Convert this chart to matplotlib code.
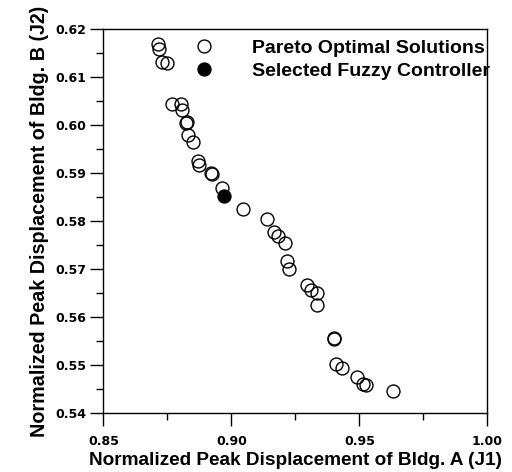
import matplotlib
matplotlib.use("Agg")
import matplotlib.pyplot as plt
from matplotlib.ticker import MultipleLocator, FormatStrFormatter

plt.rcParams['font.family'] = ['Liberation Sans', 'DejaVu Sans']
plt.rcParams['font.weight'] = 'bold'

pareto_j1 = [0.8712, 0.8719, 0.8731, 0.8748, 0.8770, 0.8804, 0.8806, 0.8823, 0.8825,
             0.8830, 0.8849, 0.8869, 0.8874, 0.8922, 0.8924, 0.8965, 0.9045,
             0.9141, 0.9167, 0.9184, 0.9210, 0.9219, 0.9227, 0.9295, 0.9311,
             0.9334, 0.9334, 0.9400, 0.9402, 0.9409, 0.9434, 0.9490, 0.9516,
             0.9526, 0.9630]
pareto_j2 = [0.6168, 0.6158, 0.6131, 0.6129, 0.6043, 0.6043, 0.6031, 0.6004, 0.6006,
             0.5980, 0.5965, 0.5925, 0.5917, 0.5899, 0.5898, 0.5868, 0.5824,
             0.5804, 0.5778, 0.5769, 0.5754, 0.5717, 0.5701, 0.5667, 0.5656,
             0.5651, 0.5626, 0.5556, 0.5555, 0.5503, 0.5493, 0.5474, 0.5460,
             0.5458, 0.5446]
selected_j1 = [0.8972]
selected_j2 = [0.5852]

fig = plt.figure(figsize=(5.12, 4.72), dpi=100)
ax = fig.add_axes([0.2018, 0.125, 0.75, 0.8136])

ax.plot(pareto_j1, pareto_j2, linestyle='none', marker='o', markersize=9.3,
        markerfacecolor='none', markeredgecolor='black', markeredgewidth=1.0,
        label='Pareto Optimal Solutions')
ax.plot(selected_j1, selected_j2, linestyle='none', marker='o', markersize=9.3,
        markerfacecolor='black', markeredgecolor='black', markeredgewidth=1.0,
        label='Selected Fuzzy Controller')

ax.set_xlim(0.85, 1.00)
ax.set_ylim(0.54, 0.62)
ax.xaxis.set_major_locator(MultipleLocator(0.05))
ax.xaxis.set_minor_locator(MultipleLocator(0.025))
ax.yaxis.set_major_locator(MultipleLocator(0.01))
ax.yaxis.set_minor_locator(MultipleLocator(0.005))
ax.xaxis.set_major_formatter(FormatStrFormatter('%.2f'))
ax.yaxis.set_major_formatter(FormatStrFormatter('%.2f'))

ax.tick_params(which='major', direction='out', length=9.5, width=1.0, pad=2.5,
               labelsize=9, labelfontfamily='DejaVu Sans')
ax.tick_params(which='minor', direction='out', length=4.8, width=1.0)
ax.tick_params(axis='x', which='major', pad=6.5)
for s in ax.spines.values():
    s.set_linewidth(1.0)

ax.set_xlabel('Normalized Peak Displacement of Bldg. A (J1)', fontsize=13.7,
              fontweight='bold', labelpad=3.0)
ax.set_ylabel('Normalized Peak Displacement of Bldg. B (J2)', fontsize=14.2,
              fontweight='bold', labelpad=5)

leg = ax.legend(loc='upper left', bbox_to_anchor=(0.2217, 0.9941), frameon=False,
                fontsize=14, handlelength=0.8, handletextpad=2.07,
                labelspacing=0.28, borderaxespad=0)
for t in leg.get_texts():
    t.set_fontweight('bold')

fig.savefig('out.png', dpi=100)
